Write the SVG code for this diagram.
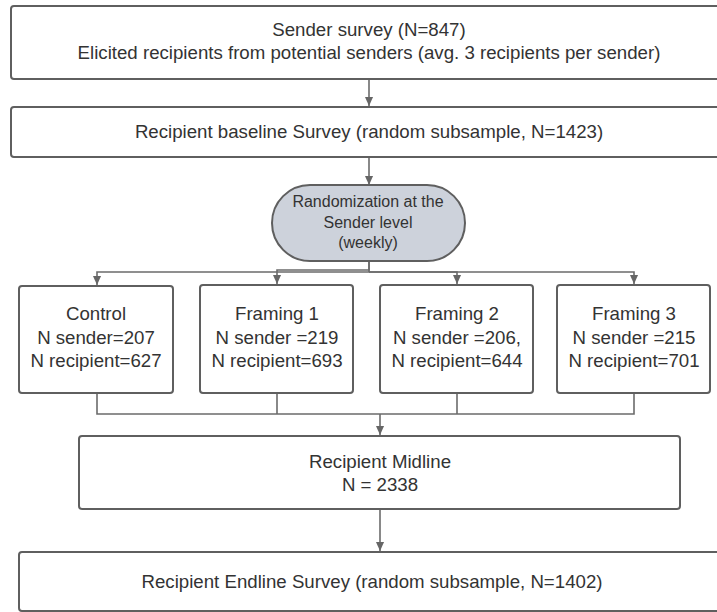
<svg xmlns="http://www.w3.org/2000/svg" width="717" height="612" viewBox="0 0 717 612">
<style>
.box{fill:#fff;stroke:#5f5f5f;stroke-width:2}
.stad{fill:#cdd2db;stroke:#5f5f5f;stroke-width:2}
.t{font-family:"Liberation Sans",Arial,sans-serif;font-size:18.67px;fill:#333;text-anchor:middle}
.ts{font-family:"Liberation Sans",Arial,sans-serif;font-size:16px;fill:#333;text-anchor:middle}
.c{fill:none;stroke:#6b6b6b;stroke-width:1.6}
</style>
<defs>
<marker id="ah" viewBox="0 0 10 10" refX="10" refY="5" markerWidth="9" markerHeight="9" markerUnits="userSpaceOnUse" orient="auto">
<path d="M0,0.5 L10,5 L0,9.5 Z" fill="#666"/>
</marker>
</defs>
<rect width="717" height="612" fill="#fff"/>
<g id="connectors">
<path class="c" d="M369,79 V106" marker-end="url(#ah)"/>
<path class="c" d="M369,157 V185" marker-end="url(#ah)"/>
<path class="c" d="M369,261 V272 H97 V285" marker-end="url(#ah)"/>
<path class="c" d="M369,261 V270 H277 V284" marker-end="url(#ah)"/>
<path class="c" d="M369,272 H457 V284" marker-end="url(#ah)"/>
<path class="c" d="M369,272 H634 V284" marker-end="url(#ah)"/>
<path class="c" d="M97,393 V414 H634 V393"/>
<path class="c" d="M277,393 V414"/>
<path class="c" d="M457,393 V414"/>
<path class="c" d="M380,414 V435" marker-end="url(#ah)"/>
<path class="c" d="M380,509 V551" marker-end="url(#ah)"/>
</g>
<g id="sender-survey">
<rect class="box" x="11" y="6" width="718" height="73" rx="3"/>
<text class="t" x="369" y="36">Sender survey (N=847)</text>
<text class="t" x="369" y="59">Elicited recipients from potential senders (avg. 3 recipients per sender)</text>
</g>
<g id="baseline">
<rect class="box" x="11" y="107" width="718" height="50" rx="3"/>
<text class="t" x="369" y="138">Recipient baseline Survey (random subsample, N=1423)</text>
</g>
<g id="randomization">
<rect class="stad" x="272" y="185" width="193" height="76" rx="38"/>
<text class="ts" x="368" y="207">Randomization at the</text>
<text class="ts" x="368" y="228">Sender level</text>
<text class="ts" x="368" y="248">(weekly)</text>
</g>
<g id="control">
<rect class="box" x="19" y="286" width="154" height="107" rx="3"/>
<text class="t" x="96" y="320">Control</text>
<text class="t" x="96" y="344">N sender=207</text>
<text class="t" x="96" y="367">N recipient=627</text>
</g>
<g id="framing1">
<rect class="box" x="200" y="285" width="153" height="108" rx="3"/>
<text class="t" x="277" y="320">Framing 1</text>
<text class="t" x="277" y="344">N sender =219</text>
<text class="t" x="277" y="367">N recipient=693</text>
</g>
<g id="framing2">
<rect class="box" x="380" y="285" width="153" height="108" rx="3"/>
<text class="t" x="457" y="320">Framing 2</text>
<text class="t" x="457" y="344">N sender =206,</text>
<text class="t" x="457" y="367">N recipient=644</text>
</g>
<g id="framing3">
<rect class="box" x="557" y="285" width="153" height="108" rx="3"/>
<text class="t" x="634" y="320">Framing 3</text>
<text class="t" x="634" y="344">N sender =215</text>
<text class="t" x="634" y="367">N recipient=701</text>
</g>
<g id="midline">
<rect class="box" x="79" y="436" width="601" height="73" rx="3"/>
<text class="t" x="380" y="468">Recipient Midline</text>
<text class="t" x="380" y="491">N = 2338</text>
</g>
<g id="endline">
<rect class="box" x="19" y="552" width="708" height="59" rx="3"/>
<text class="t" x="372" y="588">Recipient Endline Survey (random subsample, N=1402)</text>
</g>
</svg>
